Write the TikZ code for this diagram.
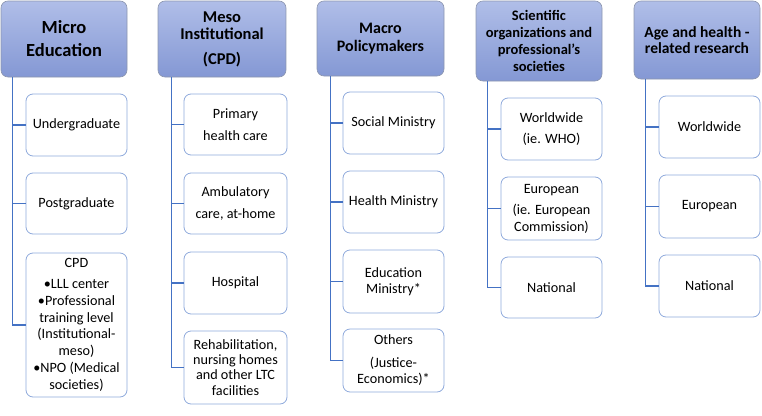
\documentclass[tikz,border=0pt]{standalone}
\usepackage{fontspec}
\setmainfont{Carlito}
\definecolor{hbtop}{RGB}{176,190,232}
\definecolor{hbbot}{RGB}{132,152,212}
\definecolor{hbdraw}{RGB}{140,150,175}
\definecolor{leafc}{RGB}{143,170,220}
\definecolor{linec}{RGB}{68,114,196}
\begin{document}
\begin{tikzpicture}[x=1pt,y=-1pt,
  head/.style={draw=hbdraw, line width=0.6pt, rounded corners=7pt, top color=hbtop, bottom color=hbbot,
    align=center, inner sep=0pt},
  leaf/.style={draw=leafc, line width=0.8pt, fill=white, rounded corners=7pt,
    font=\fontsize{14.2}{16.5}\selectfont, align=center, inner sep=0pt},
  conn/.style={draw=linec, line width=1.3pt}]
\useasboundingbox (0,0) rectangle (762,415);
% Column 1
\node[head, font=\bfseries\fontsize{18.5}{22}\selectfont, minimum width=126pt, minimum height=76pt] (h1) at (64,39) {Micro\\[1pt]Education};
\node[leaf, minimum width=101pt, minimum height=62pt] (a1) at (76.5,125) {Undergraduate};
\node[leaf, minimum width=101pt, minimum height=61pt] (a2) at (76.5,203.5) {Postgraduate};
\node[leaf, minimum width=101pt, minimum height=144pt] (a3) at (76.5,325) {CPD\\[4pt]•LLL center\\[1pt]•Professional\\training level\\(Institutional-\\meso)\\[1pt]•NPO (Medical\\societies)};
% Column 2
\node[head, font=\bfseries\fontsize{16.5}{17}\selectfont, minimum width=128pt, minimum height=76pt] (h2) at (222,39) {Meso\\Institutional\\[8pt](CPD)};
\node[leaf, minimum width=103pt, minimum height=61pt] (b1) at (235.5,124.5) {Primary\\[6pt]health care};
\node[leaf, minimum width=103pt, minimum height=61pt] (b2) at (235.5,203.5) {Ambulatory\\[6pt]care, at-home};
\node[leaf, minimum width=103pt, minimum height=62pt] (b3) at (235.5,283) {Hospital};
\node[leaf, font=\fontsize{14.2}{15.2}\selectfont, minimum width=103pt, minimum height=73pt] (b4) at (235.5,367.5) {Rehabilitation,\\nursing homes\\and other LTC\\facilities};
% Column 3
\node[head, font=\bfseries\fontsize{16}{17.5}\selectfont, minimum width=127pt, minimum height=75pt] (h3) at (380.5,38.5) {Macro\\Policymakers};
\node[leaf, minimum width=101pt, minimum height=62pt] (c1) at (393.5,123) {Social Ministry};
\node[leaf, minimum width=101pt, minimum height=62pt] (c2) at (393.5,202) {Health Ministry};
\node[leaf, minimum width=101pt, minimum height=63pt] (c3) at (393.5,281.5) {Education\\Ministry*};
\node[leaf, minimum width=101pt, minimum height=63pt] (c4) at (393.5,360.5) {Others\\[6pt](Justice-\\Economics)*};
% Column 4
\node[head, font=\bfseries\fontsize{14.5}{17.3}\selectfont, minimum width=126pt, minimum height=80pt] (h4) at (539,41) {Scientific\\organizations and\\professional’s\\societies};
\node[leaf, minimum width=101pt, minimum height=62pt] (d1) at (551.5,129) {Worldwide\\[5pt](ie. WHO)};
\node[leaf, minimum width=101pt, minimum height=63pt] (d2) at (551.5,208.5) {European\\[5pt](ie. European\\Commission)};
\node[leaf, minimum width=101pt, minimum height=61pt] (d3) at (551.5,287.5) {National};
% Column 5
\node[head, font=\bfseries\fontsize{15.5}{16.5}\selectfont, minimum width=126pt, minimum height=78pt] (h5) at (697,40) {Age and health -\\related research};
\node[leaf, minimum width=101pt, minimum height=62pt] (e1) at (709.5,127) {Worldwide};
\node[leaf, minimum width=101pt, minimum height=63pt] (e2) at (709.5,206.5) {European};
\node[leaf, minimum width=101pt, minimum height=62pt] (e3) at (709.5,286) {National};
% Connectors
\draw[conn] (h1.south west) ++(12,0) coordinate (t1) |- (a3.west);
\draw[conn] (t1 |- a1.west) -- (a1.west);
\draw[conn] (t1 |- a2.west) -- (a2.west);
\draw[conn] (h2.south west) ++(14,0) coordinate (t2) |- (b4.west);
\draw[conn] (t2 |- b1.west) -- (b1.west);
\draw[conn] (t2 |- b2.west) -- (b2.west);
\draw[conn] (t2 |- b3.west) -- (b3.west);
\draw[conn] (h3.south west) ++(14,0) coordinate (t3) |- (c4.west);
\draw[conn] (t3 |- c1.west) -- (c1.west);
\draw[conn] (t3 |- c2.west) -- (c2.west);
\draw[conn] (t3 |- c3.west) -- (c3.west);
\draw[conn] (h4.south west) ++(12,0) coordinate (t4) |- (d3.west);
\draw[conn] (t4 |- d1.west) -- (d1.west);
\draw[conn] (t4 |- d2.west) -- (d2.west);
\draw[conn] (h5.south west) ++(12,0) coordinate (t5) |- (e3.west);
\draw[conn] (t5 |- e1.west) -- (e1.west);
\draw[conn] (t5 |- e2.west) -- (e2.west);
\end{tikzpicture}
\end{document}
